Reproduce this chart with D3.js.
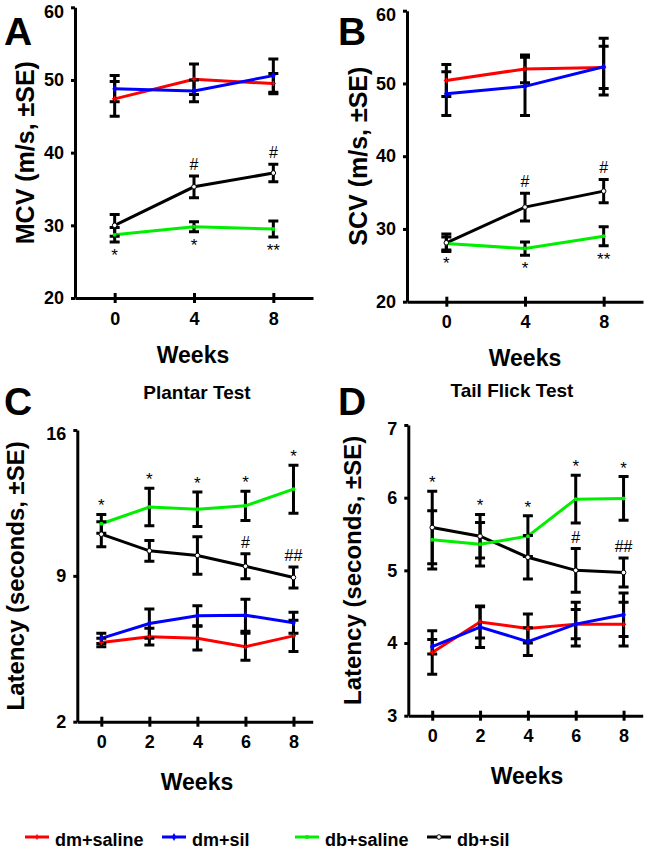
<!DOCTYPE html>
<meta charset="utf-8">
<script src="https://d3js.org/d3.v7.min.js"></script>
<style>
    body { margin: 0; background: #fff; }
    svg { font-family: "Liberation Sans", Arial, sans-serif; }
    .axis path, .axis line { stroke: #000; stroke-width: 3; }
    .axis text { font-size: 18px; font-weight: bold; fill: #000; }
    .title { font-weight: bold; fill: #000; }
    .letter { font-size: 39px; font-weight: bold; fill: #000; }
    .mark { font-size: 17px; fill: #000; }
    .series { fill: none; stroke-width: 3; }
    .err { stroke: #000; stroke-width: 3; }
</style>
<div id="chart"></div>
<script>
// groups / colours
const groups = ["dm+saline", "dm+sil", "db+saline", "db+sil"];
const colors = ["#ff0000", "#0000ff", "#00ee00", "#000000"];

const weeksAB = [0, 4, 8];
const weeksCD = [0, 2, 4, 6, 8];

// A: MCV
const mcvMean = [[47.4, 50.1, 49.5], [48.8, 48.5, 50.6], [28.7, 29.8, 29.5], [30.0, 35.3, 37.2]];
const mcvSE   = [[2.4, 2.1, 1.4], [1.8, 1.5, 2.3], [1.0, 0.7, 1.1], [1.5, 1.5, 1.2]];
const mcvStars = ["*", "*", "**"];
const mcvHash  = ["", "#", "#"];

// B: SCV
const scvMean = [[50.4, 52.0, 52.2], [48.6, 49.6, 52.3], [28.0, 27.3, 29.0], [28.1, 33.0, 35.2]];
const scvSE   = [[2.2, 1.9, 2.9], [3.0, 4.0, 3.9], [0.9, 0.9, 1.3], [1.2, 1.9, 1.6]];
const scvStars = ["*", "*", "**"];
const scvHash  = ["", "#", "#"];

// C: plantar test latency
const plantarMean = [[5.8, 6.08, 6.01, 5.6, 6.12], [6.0, 6.71, 7.08, 7.11, 6.75],
                     [11.5, 12.3, 12.2, 12.36, 13.16], [11.0, 10.2, 9.98, 9.46, 8.92]];
const plantarSE   = [[0.2, 0.4, 0.57, 0.65, 0.75], [0.25, 0.7, 0.48, 0.77, 0.5],
                     [0.45, 0.9, 0.83, 0.7, 1.15], [0.6, 0.5, 0.9, 0.6, 0.5]];
const plantarStars = ["*", "*", "*", "*", "*"];
const plantarHash  = ["", "", "", "#", "##"];

// D: tail flick latency
const tailMean = [[3.87, 4.29, 4.2, 4.26, 4.26], [3.95, 4.22, 4.02, 4.26, 4.39],
                  [5.42, 5.36, 5.47, 5.98, 5.99], [5.59, 5.47, 5.18, 5.0, 4.97]];
const tailSE   = [[0.3, 0.22, 0.2, 0.2, 0.3], [0.1, 0.28, 0.19, 0.3, 0.3],
                  [0.4, 0.3, 0.28, 0.33, 0.3], [0.5, 0.3, 0.3, 0.3, 0.2]];
const tailStars = ["*", "*", "*", "*", "*"];
const tailHash  = ["", "", "", "#", "##"];

const panels = [
    {letter: "A", lx: 4, ly: 45, weeks: weeksAB, mean: mcvMean, se: mcvSE, stars: mcvStars, hash: mcvHash, starBelow: true,
     xd: [-2, 10], xr: [75, 313], yd: [20, 60], yr: [298, 7.3], yticks: [20, 30, 40, 50, 60],
     ytitle: "MCV (m/s, \u00b1SE)", ytx: 25, yfs: 25, wx: 193, wy: 363},
    {letter: "B", lx: 338, ly: 45, weeks: weeksAB, mean: scvMean, se: scvSE, stars: scvStars, hash: scvHash, starBelow: true,
     xd: [-2, 10], xr: [407, 643], yd: [20, 60], yr: [301.7, 10.7], yticks: [20, 30, 40, 50, 60],
     ytitle: "SCV (m/s, \u00b1SE)", ytx: 358, yfs: 25, wx: 525, wy: 366},
    {letter: "C", lx: 4, ly: 415, weeks: weeksCD, mean: plantarMean, se: plantarSE, stars: plantarStars, hash: plantarHash, starBelow: false,
     xd: [-1, 8.8], xr: [77.3, 312.7], yd: [2, 16], yr: [721.7, 430], yticks: [2, 9, 16],
     ytitle: "Latency (seconds, \u00b1SE)", ytx: 15, yfs: 24, wx: 197, wy: 790,
     test: "Plantar Test", tx: 197, ty: 399},
    {letter: "D", lx: 338, ly: 415, weeks: weeksCD, mean: tailMean, se: tailSE, stars: tailStars, hash: tailHash, starBelow: false,
     xd: [-1, 8.8], xr: [408.3, 642.7], yd: [3, 7], yr: [715.7, 425], yticks: [3, 4, 5, 6, 7],
     ytitle: "Latency (seconds, \u00b1SE)", ytx: 352, yfs: 24, wx: 527, wy: 784,
     test: "Tail Flick Test", tx: 512, ty: 397}
];

const svg = d3.select("#chart").append("svg")
    .attr("width", 650)
    .attr("height", 853);
svg.append("rect").attr("width", 650).attr("height", 853).attr("fill", "#fff");

function drawMarker(g, i, cx, cy) {
    if (i === 0) {
        g.append("path").attr("d", `M${cx - 2.5},${cy}H${cx + 2.5}M${cx},${cy - 2.5}V${cy + 2.5}`)
            .attr("stroke", colors[0]).attr("stroke-width", 1.5);
    } else if (i === 1) {
        g.append("path").attr("d", d3.symbol(d3.symbolDiamond, 18)()).attr("transform", `translate(${cx},${cy})`)
            .attr("fill", colors[1]);
    } else if (i === 2) {
        g.append("circle").attr("cx", cx).attr("cy", cy).attr("r", 2).attr("fill", colors[2]);
    } else {
        g.append("circle").attr("cx", cx).attr("cy", cy).attr("r", 2.3)
            .attr("fill", "#fff").attr("stroke", "#000").attr("stroke-width", 1);
    }
}

panels.forEach(p => {
    const x = d3.scaleLinear().domain(p.xd).range(p.xr);
    const y = d3.scaleLinear().domain(p.yd).range(p.yr);
    const g = svg.append("g");

    // axes
    const xAxis = g.append("g").attr("class", "axis")
        .attr("transform", `translate(0,${p.yr[0]})`)
        .call(d3.axisBottom(x).tickValues(p.weeks).tickSize(5).tickSizeOuter(0));
    xAxis.selectAll(".tick line").attr("y1", -5).attr("y2", 5);
    xAxis.selectAll(".tick text").attr("y", 14);

    const yAxis = g.append("g").attr("class", "axis")
        .attr("transform", `translate(${p.xr[0]},0)`)
        .call(d3.axisLeft(y).tickValues(p.yticks).tickFormat(d3.format("d"))
            .tickSize(4).tickSizeOuter(0).tickPadding(7));
    // top label sits a little lower than its tick
    yAxis.selectAll(".tick text").filter(d => d === p.yd[1]).attr("dy", "0.55em");

    // titles
    g.append("text").attr("class", "title")
        .attr("transform", `translate(${p.ytx},${(p.yr[0] + p.yr[1]) / 2}) rotate(-90)`)
        .attr("text-anchor", "middle").attr("dy", "0.36em")
        .style("font-size", p.yfs + "px").text(p.ytitle);
    g.append("text").attr("class", "title")
        .attr("x", p.wx).attr("y", p.wy).attr("text-anchor", "middle")
        .style("font-size", "23px").text("Weeks");
    g.append("text").attr("class", "letter").attr("x", p.lx).attr("y", p.ly).text(p.letter);
    if (p.test) {
        g.append("text").attr("class", "title")
            .attr("x", p.tx).attr("y", p.ty).attr("text-anchor", "middle")
            .style("font-size", "19px").text(p.test);
    }

    // lines
    const line = d3.line().x((d, j) => x(p.weeks[j])).y(d => y(d));
    [0, 1, 3, 2].forEach(i => {
        g.append("path").attr("class", "series")
            .attr("stroke", colors[i])
            .attr("d", line(p.mean[i]));
    });

    // error bars
    p.mean.forEach((m, i) => {
        m.forEach((v, j) => {
            const cx = x(p.weeks[j]);
            const top = y(v + p.se[i][j]), bot = y(v - p.se[i][j]);
            g.append("path").attr("class", "err")
                .attr("d", `M${cx},${top}V${bot}M${cx - 5},${top}H${cx + 5}M${cx - 5},${bot}H${cx + 5}`);
        });
    });

    // markers
    p.mean.forEach((m, i) => {
        m.forEach((v, j) => drawMarker(g, i, x(p.weeks[j]), y(v)));
    });

    // significance marks
    p.weeks.forEach((w, j) => {
        const cx = x(w);
        let sy;
        if (p.starBelow) {
            sy = y(p.mean[2][j] - p.se[2][j]) + 19;
        } else {
            const topV = Math.max(p.mean[2][j] + p.se[2][j], p.mean[3][j] + p.se[3][j]);
            sy = y(topV) - 3;
        }
        g.append("text").attr("class", "mark").attr("x", cx).attr("y", sy)
            .attr("text-anchor", "middle").text(p.stars[j]);
        if (p.hash[j]) {
            g.append("text").attr("class", "mark").attr("x", cx)
                .attr("y", y(p.mean[3][j] + p.se[3][j]) - 6)
                .attr("text-anchor", "middle").style("font-size", "16px").text(p.hash[j]);
        }
    });
});

// legend
const legendX = [25, 162, 295, 427];
const legend = svg.append("g");
groups.forEach((name, i) => {
    const lx = legendX[i];
    legend.append("line").attr("x1", lx).attr("x2", lx + 24).attr("y1", 837).attr("y2", 837)
        .attr("stroke", colors[i]).attr("stroke-width", 3);
    drawMarker(legend, i, lx + 12, 837);
    legend.append("text").attr("x", lx + 30).attr("y", 846)
        .style("font-size", "18px").style("font-weight", "bold").text(name);
});
</script>
